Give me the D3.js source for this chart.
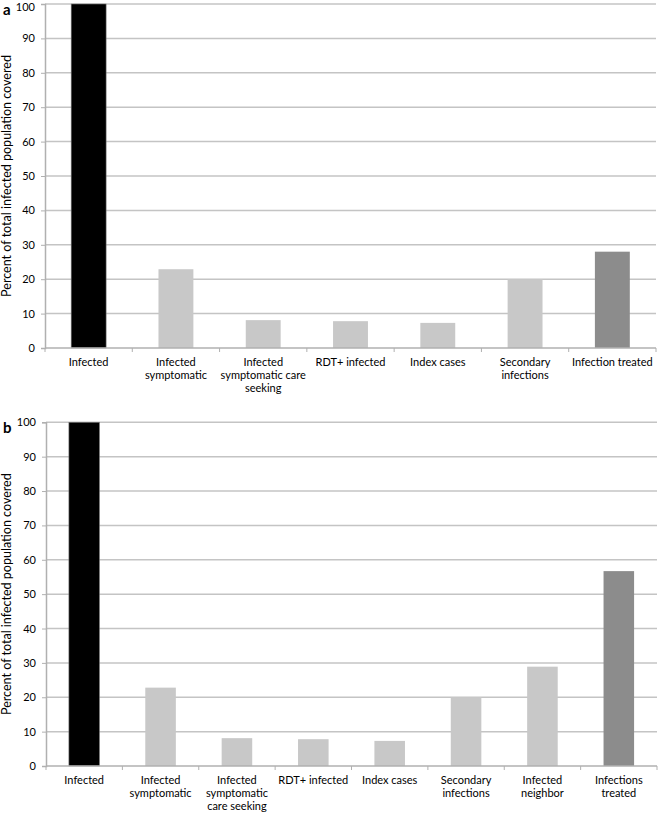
<!DOCTYPE html>
<html><head><meta charset="utf-8">
<script src="https://cdn.jsdelivr.net/npm/d3@7/dist/d3.min.js"></script>
<style>body{margin:0;background:#fff}svg{display:block}text{font-family:Lato,"Open Sans",sans-serif;fill:#000}</style>
</head><body><svg id="c" width="661" height="816"></svg>
<script>
const yTicks = [0,10,20,30,40,50,60,70,80,90,100];
const yTitle = "Percent of total infected population covered";

const catsA = ["Infected","Infected\nsymptomatic","Infected\nsymptomatic care\nseeking","RDT+ infected","Index cases","Secondary\ninfections","Infection treated"];
const valsA = [100, 22.9, 8.1, 7.8, 7.3, 20.0, 28.0];
const colsA = ["black","light","light","light","light","light","dark"];

const catsB = ["Infected","Infected\nsymptomatic","Infected\nsymptomatic\ncare seeking","RDT+ infected","Index cases","Secondary\ninfections","Infected\nneighbor","Infections\ntreated"];
const valsB = [100, 22.8, 8.1, 7.8, 7.3, 20.0, 28.9, 56.7];
const colsB = ["black","light","light","light","light","light","light","dark"];

const palette = {black:"#000000", light:"#c8c8c8", dark:"#8c8c8c"};
const svg = d3.select("#c");

function panel(label, cats, vals, cols, x0, x1, yTop, yBot, nudgeTop) {
  const g = svg.append("g");
  const x = d3.scaleBand().domain(cats).range([x0, x1]).paddingInner(0.6).paddingOuter(0.3);
  const y = d3.scaleLinear().domain([0,100]).range([yBot, yTop]);

  g.selectAll(".grid").data(yTicks.filter(t=>t>0)).join("line")
    .attr("x1", x0).attr("x2", x1).attr("y1", d=>y(d)).attr("y2", d=>y(d))
    .attr("stroke", "#c4c4c4").attr("stroke-width", 1.5);

  const ya = g.append("g").attr("transform", `translate(${x0},0)`)
    .call(d3.axisLeft(y).tickValues(yTicks).tickSize(4).tickPadding(6));
  ya.select(".domain").attr("stroke", "#b0b0b0").attr("stroke-width", 1.5);
  ya.selectAll(".tick line").attr("stroke", "#b0b0b0");
  ya.selectAll("text").style("font-size", "11px").style("font-family", "Lato, sans-serif")
    .attr("dy", d => (d===100 && nudgeTop) ? "0.62em" : "0.32em");

  g.selectAll(".bar").data(cats).join("rect")
    .attr("x", d=>x(d)).attr("width", x.bandwidth())
    .attr("y", (d,i)=>y(vals[i])).attr("height", (d,i)=>y(0)-y(vals[i]))
    .attr("fill", (d,i)=>palette[cols[i]])
    .attr("stroke", (d,i)=>cols[i]==="black" ? "#777" : "none").attr("stroke-width", 0.6);

  g.append("line").attr("x1", x0).attr("x2", x1).attr("y1", y(0)).attr("y2", y(0))
    .attr("stroke", "#b0b0b0").attr("stroke-width", 1.5);
  const step = (x1 - x0) / cats.length;
  const bounds = d3.range(cats.length + 1).map(i => x0 + i * step);
  g.selectAll(".xt").data(bounds).join("line")
    .attr("x1", d=>d).attr("x2", d=>d).attr("y1", y(0)).attr("y2", y(0)+4)
    .attr("stroke", "#b0b0b0").attr("stroke-width", 1);

  g.selectAll(".cl").data(cats).join("text")
    .attr("text-anchor", "middle").style("font-size", "11px")
    .attr("transform", d=>`translate(${x(d)+x.bandwidth()/2},${y(0)+18})`)
    .each(function(d){
      const t = d3.select(this);
      d.split("\n").forEach((ln,i)=>t.append("tspan").attr("x",0).attr("dy", i===0?0:13).text(ln));
    });

  const tt = g.append("text").attr("text-anchor","middle").style("font-size","12px")
    .attr("transform", `translate(11,${(yTop+yBot)/2}) rotate(-90)`).text(yTitle);
  const len = tt.node().getComputedTextLength();
  tt.style("font-size", (12 * 242 / len).toFixed(2) + "px");

  g.append("text").attr("x", 3).attr("y", yTop+11).style("font-size","15px").style("font-weight","bold").text(label);
}

panel("a", catsA, valsA, colsA, 45, 656, 4, 348, true);
panel("b", catsB, valsB, colsB, 46, 657, 422.3, 766, false);
</script></body></html>
